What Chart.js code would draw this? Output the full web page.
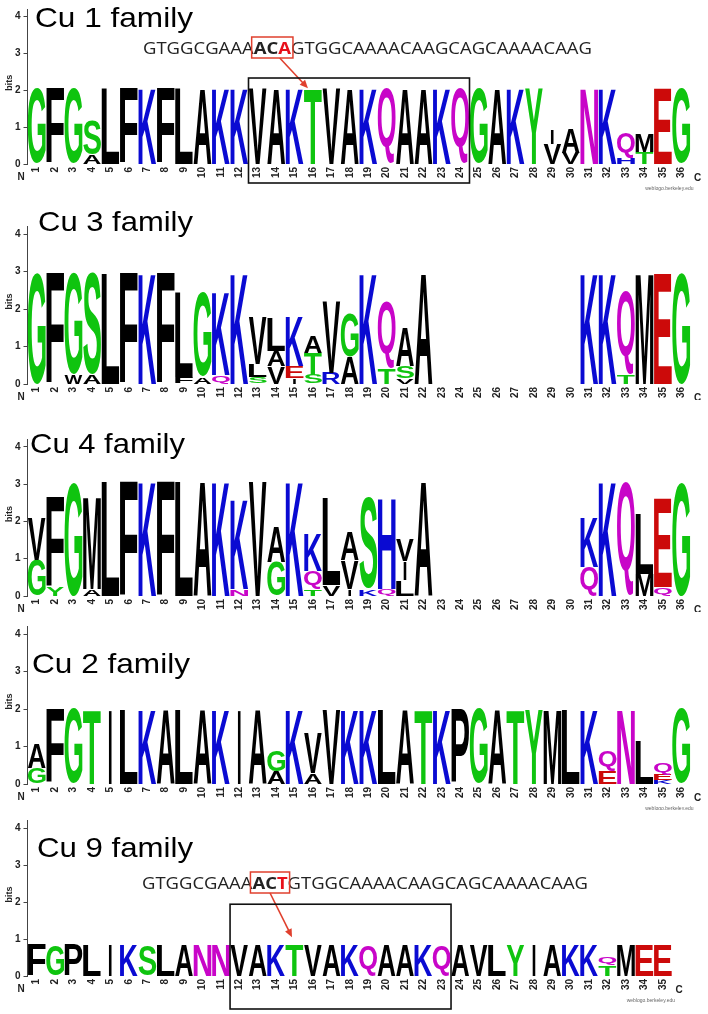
<!DOCTYPE html>
<html>
<head>
<meta charset="utf-8">
<script src="https://cdn.jsdelivr.net/npm/chart.js@4.4.0/dist/chart.umd.min.js"></script>
<style>
html, body { margin: 0; padding: 0; background: #fff; }
#page { position: relative; width: 708px; height: 1014px; overflow: hidden; }
#page canvas { position: absolute; left: 0; }
</style>
</head>
<body>
<div id="page">
  <canvas id="cu1" width="708" height="197" style="top:0px"></canvas>
  <canvas id="cu3" width="708" height="203" style="top:197px"></canvas>
  <canvas id="cu4" width="708" height="212" style="top:400px"></canvas>
  <canvas id="cu2" width="708" height="198" style="top:612px"></canvas>
  <canvas id="cu9" width="708" height="204" style="top:810px"></canvas>
</div>
<script>
// tick labels along the sequence
var positions36 = ['1','2','3','4','5','6','7','8','9','10','11','12','13','14','15','16','17','18',
                   '19','20','21','22','23','24','25','26','27','28','29','30','31','32','33','34','35','36'];
var positions35 = positions36.slice(0, 35);
var bitTicks = [0, 1, 2, 3, 4];

// residues stacked bottom -> top, with their heights in bits in the same order
var cu1Letters = ['G','F','G','AS','L','F','K','F','L','A','K','K','V','A','K','T','V','A',
                  'K','Q','A','A','K','Q','G','A','K','Y','VI','VA','N','K','HQ','TM','E','G'];
var cu1Bits = [[2.05],[2.05],[2.05],[0.27,0.92],[2.05],[2.05],[2.05],[2.05],[2.05],[2.05],[2.05],[2.05],
               [2.05],[2.05],[2.05],[2.05],[2.05],[2.05],[2.05],[2.05],[2.05],[2.05],[2.05],[2.05],
               [2.05],[2.05],[2.05],[2.05],[0.55,0.38],[0.31,0.65],[2.05],[2.05],[0.17,0.66],[0.32,0.5],[2.05],[2.05]];

var cu3Letters = ['G','F','WG','AS','L','F','K','F','FL','AG','QK','K','SLV','VAL','IEK','STA','RV','AG',
                  'K','TQ','VSA','A','','','','','','','','','K','K','TQ','M','E','G'];
var cu3Bits = [[2.95],[2.95],[0.25,2.7],[0.25,2.7],[2.95],[2.95],[2.95],[2.95],[0.2,2.25],[0.2,2.25],[0.25,2.2],[2.95],
               [0.18,0.35,1.25],[0.47,0.4,0.9],[0.16,0.31,1.3],[0.25,0.58,0.45],[0.3,1.92],[0.74,1.16],
               [2.95],[0.43,1.79],[0.16,0.31,1.03],[2.95],[],[],[],[],[],[],[],[],[2.95],[2.95],[0.25,2.23],[2.95],[2.95],[2.95]];

var cu4Letters = ['GV','YF','G','AM','L','F','K','F','L','A','K','NK','V','GA','K','TQK','VL','IVA',
                  'KS','QH','LIV','A','','','','','','','','','QK','K','Q','ML','QE','G'];
var cu4Bits = [[0.97,1.12],[0.25,2.42],[3.07],[0.2,2.47],[3.07],[3.07],[3.07],[3.07],[3.07],[3.07],[3.07],[0.2,2.42],
               [3.07],[0.92,0.94],[3.07],[0.18,0.5,1.02],[0.3,2.32],[0.2,0.76,0.76],
               [0.2,2.45],[0.2,2.45],[0.43,0.5,0.57],[3.07],[],[],[],[],[],[],[],[],[0.79,1.34],[3.07],[3.07],[0.6,1.62],[0.25,2.37],[3.07]];

var cu2Letters = ['GA','F','G','T','I','L','K','A','L','A','K','I','A','AG','K','AV','V','K',
                  'K','L','A','T','K','P','G','A','T','Y','M','L','K','EQ','N','L','KEQ','G'];
var cu2Bits = [[0.43,0.66],[2.0],[2.0],[2.0],[2.0],[2.0],[2.0],[2.0],[2.0],[2.0],[2.0],[2.0],
               [2.0],[0.35,0.57],[2.0],[0.3,1.06],[2.0],[2.0],[2.0],[2.0],[2.0],[2.0],[2.0],[2.0],
               [2.0],[2.0],[2.0],[2.0],[2.0],[2.0],[2.0],[0.36,0.51],[2.0],[1.18],[0.1,0.16,0.3],[2.0]];

var cu9Letters = ['F','G','P','L','I','K','S','L','A','N','N','V','A','K','T','V','A','K',
                  'Q','A','A','K','Q','A','V','L','Y','I','A','K','K','TQ','M','E','E'];
var cu9Bits = [[0.84],[0.84],[0.84],[0.84],[0.84],[0.84],[0.84],[0.84],[0.84],[0.84],[0.84],[0.84],
               [0.84],[0.84],[0.84],[0.84],[0.84],[0.84],[0.84],[0.84],[0.84],[0.84],[0.84],[0.84],
               [0.84],[0.84],[0.84],[0.84],[0.84],[0.84],[0.84],[0.3,0.22],[0.84],[0.84],[0.84]];

var cu1Dna = 'GTGGCGAAAACAGTGGCAAAACAAGCAGCAAAACAAG';
var cu9Dna = 'GTGGCGAAAACTGTGGCAAAACAAGCAGCAAAACAAG';

// residue colours (weblogo default scheme)
var green = '#0fc40f', purple = '#c805c8', blue = '#0a0ad2', red = '#cc0a0a';
var residueColours = { G: green, S: green, T: green, Y: green, C: green,
                       N: purple, Q: purple, K: blue, R: blue, H: blue, D: red, E: red };

function colourOf(ch) { return residueColours[ch] || '#000'; }

function logoDatasets(letters, bits) {
    var depth = Math.max.apply(null, bits.map(function (b) { return b.length; }));
    var sets = [];
    for (var k = 0; k < depth; k++) {
        sets.push({
            data: bits.map(function (b) { return b[k] === undefined ? null : b[k]; }),
            letters: letters.map(function (s) { return s.charAt(k); }),
            backgroundColor: 'rgba(0,0,0,0)',
            borderWidth: 0,
            stack: 'logo',
            barPercentage: 0.97,
            categoryPercentage: 1
        });
    }
    return sets;
}

var glyphFont = 'bold 100px "Liberation Sans", Arial, sans-serif';

// draws one residue stretched into its bar rectangle
function drawGlyph(ctx, ch, left, top, w, h, colour) {
    if (h < 0.5) return;
    ctx.save();
    ctx.font = glyphFont;
    ctx.textAlign = 'left';
    ctx.textBaseline = 'alphabetic';
    var m = ctx.measureText(ch);
    var gw = m.actualBoundingBoxLeft + m.actualBoundingBoxRight;
    var gh = m.actualBoundingBoxAscent + m.actualBoundingBoxDescent;
    var tw = ch === 'I' ? Math.max(2, w * 0.16) : w;
    ctx.translate(left + (w - tw) / 2, top);
    ctx.scale(tw / gw, h / gh);
    ctx.fillStyle = colour;
    ctx.fillText(ch, m.actualBoundingBoxLeft, m.actualBoundingBoxAscent);
    ctx.restore();
}

var letterPlugin = {
    id: 'letters',
    afterDatasetsDraw: function (chart) {
        var ctx = chart.ctx;
        chart.data.datasets.forEach(function (ds, di) {
            chart.getDatasetMeta(di).data.forEach(function (bar, i) {
                var ch = ds.letters[i];
                if (!ch || ds.data[i] == null) return;
                var p = bar.getProps(['x', 'y', 'base', 'width'], true);
                drawGlyph(ctx, ch, p.x - p.width / 2, p.y, p.width, p.base - p.y, colourOf(ch));
            });
        });
    }
};

function fitText(ctx, text, x, y, width, font) {
    ctx.save();
    ctx.font = font;
    var w = ctx.measureText(text).width;
    ctx.translate(x, y);
    ctx.scale(width / w, 1);
    ctx.fillText(text, 0, 0);
    ctx.restore();
}

function drawArrow(ctx, x1, y1, x2, y2, colour) {
    var a = Math.atan2(y2 - y1, x2 - x1), head = 9;
    ctx.save();
    ctx.strokeStyle = colour;
    ctx.fillStyle = colour;
    ctx.lineWidth = 1.6;
    ctx.beginPath();
    ctx.moveTo(x1, y1);
    ctx.lineTo(x2 - Math.cos(a) * head * 0.8, y2 - Math.sin(a) * head * 0.8);
    ctx.stroke();
    ctx.beginPath();
    ctx.moveTo(x2, y2);
    ctx.lineTo(x2 - head * Math.cos(a - 0.42), y2 - head * Math.sin(a - 0.42));
    ctx.lineTo(x2 - head * Math.cos(a + 0.42), y2 - head * Math.sin(a + 0.42));
    ctx.closePath();
    ctx.fill();
    ctx.restore();
}

var extrasPlugin = {
    id: 'extras',
    afterDraw: function (chart, args, opts) {
        var ctx = chart.ctx, area = chart.chartArea;
        var xs = chart.scales.x, ys = chart.scales.y;
        var step = xs.getPixelForValue(1) - xs.getPixelForValue(0);

        ctx.save();
        ctx.fillStyle = '#000';
        ctx.textBaseline = 'alphabetic';
        ctx.textAlign = 'left';
        fitText(ctx, opts.title.text, opts.title.x, opts.title.y, opts.title.width,
                '28px "Liberation Sans", Arial, sans-serif');

        // "bits", N, C and credit
        ctx.save();
        ctx.translate(10, ys.getPixelForValue(2.2));
        ctx.rotate(-Math.PI / 2);
        ctx.textAlign = 'center';
        ctx.textBaseline = 'middle';
        ctx.font = 'bold 9px "Liberation Sans", Arial, sans-serif';
        ctx.fillStyle = '#222';
        ctx.fillText('bits', 0, 0);
        ctx.restore();

        ctx.font = 'bold 10px "Liberation Sans", Arial, sans-serif';
        ctx.textAlign = 'center';
        ctx.textBaseline = 'middle';
        ctx.fillStyle = '#222';
        ctx.fillText('N', area.left - 6.5, area.bottom + 13.5);
        ctx.fillText('C', area.right + 7, area.bottom + 14.5);
        ctx.font = '5px "Liberation Sans", Arial, sans-serif';
        ctx.textAlign = 'right';
        ctx.fillStyle = '#666';
        ctx.fillText('weblogo.berkeley.edu', area.right + 3, area.bottom + 25);

        if (opts.dna) {
            var d = opts.dna, t = d.text;
            var normal = '16.5px "Open Sans", "Noto Sans", sans-serif';
            var bold = 'bold 16.5px "Open Sans", "Noto Sans", sans-serif';
            var parts = [
                { s: t.slice(0, d.codon), f: normal, c: '#222' },
                { s: t.slice(d.codon, d.codon + 2), f: bold, c: '#222' },
                { s: t.slice(d.codon + 2, d.codon + 3), f: bold, c: '#e8101a' },
                { s: t.slice(d.codon + 3), f: normal, c: '#222' }
            ];
            var total = 0;
            parts.forEach(function (p) { ctx.font = p.f; p.w = ctx.measureText(p.s).width; total += p.w; });
            var sx = d.width / total;
            var cx = d.x, codonLeft = 0, codonRight = 0;
            ctx.textAlign = 'left';
            ctx.textBaseline = 'alphabetic';
            parts.forEach(function (p, i) {
                if (i === 1) codonLeft = cx;
                ctx.save();
                ctx.font = p.f;
                ctx.fillStyle = p.c;
                ctx.translate(cx, d.y);
                ctx.scale(sx, 1);
                ctx.fillText(p.s, 0, 0);
                ctx.restore();
                cx += p.w * sx;
                if (i === 2) codonRight = cx;
            });
            var bl = codonLeft - 2, br = codonRight + 2, bt = d.y - 17, bb = d.y + 4;
            ctx.strokeStyle = '#e0402e';
            ctx.lineWidth = 1.5;
            ctx.strokeRect(bl, bt, br - bl, bb - bt);
            drawArrow(ctx, bl + (br - bl) * d.arrowFrom, bb,
                      xs.getPixelForValue(d.arrowTo[0]) + d.arrowTo[2], ys.getPixelForValue(d.arrowTo[1]),
                      '#e0402e');
        }

        if (opts.frame) {
            var f = opts.frame;
            var fl = xs.getPixelForValue(f.from) - step / 2;
            var fr = xs.getPixelForValue(f.to) + step / 2;
            var ft = ys.getPixelForValue(f.top);
            var fb = area.bottom + f.below;
            ctx.strokeStyle = '#111';
            ctx.lineWidth = 1.6;
            ctx.strokeRect(fl, ft, fr - fl, fb - ft);
        }
        ctx.restore();
    }
};

function makeLogo(id, labels, letters, bits, layout, extras) {
    return new Chart(document.getElementById(id).getContext('2d'), {
        type: 'bar',
        data: { labels: labels, datasets: logoDatasets(letters, bits) },
        plugins: [letterPlugin, extrasPlugin],
        options: {
            responsive: false,
            animation: false,
            devicePixelRatio: 1,
            layout: { padding: { left: 0, right: layout.right, top: layout.top, bottom: 0 } },
            plugins: { legend: { display: false }, tooltip: { enabled: false }, extras: extras },
            scales: {
                x: {
                    stacked: true,
                    grid: { display: false, drawTicks: false },
                    border: { display: false },
                    ticks: {
                        autoSkip: false, maxRotation: 90, minRotation: 90, padding: 3,
                        color: '#222', font: { family: '"Liberation Sans", Arial, sans-serif', size: 10, weight: 'bold' }
                    },
                    afterFit: function (scale) { scale.height = layout.xHeight; }
                },
                y: {
                    stacked: true,
                    min: 0,
                    max: 4.2,
                    grid: { drawOnChartArea: false, tickLength: 4, color: '#444' },
                    border: { display: true, color: '#444', width: 1 },
                    ticks: {
                        stepSize: 1, padding: 3, color: '#222',
                        font: { family: '"Liberation Sans", Arial, sans-serif', size: 10, weight: 'bold' }
                    },
                    afterBuildTicks: function (scale) {
                        scale.ticks = bitTicks.map(function (v) { return { value: v }; });
                    },
                    afterFit: function (scale) { scale.width = 27.5; }
                }
            }
        }
    });
}

makeLogo('cu1', positions36, cu1Letters, cu1Bits,
    { top: 7.5, right: 17.5, xHeight: 33 },
    { title: { text: 'Cu 1 family', x: 35, y: 27, width: 158 },
      dna: { text: cu1Dna, codon: 9, x: 143, y: 54, width: 449, arrowFrom: 0.68, arrowTo: [15, 2.05, -5] },
      frame: { from: 12, to: 23, top: 2.33, below: 19 } });

makeLogo('cu3', positions36, cu3Letters, cu3Bits,
    { top: 29.5, right: 17.5, xHeight: 16 },
    { title: { text: 'Cu 3 family', x: 38, y: 34, width: 155 } });

makeLogo('cu4', positions36, cu4Letters, cu4Bits,
    { top: 39.5, right: 17.5, xHeight: 16 },
    { title: { text: 'Cu 4 family', x: 30, y: 53, width: 155 } });

makeLogo('cu2', positions36, cu2Letters, cu2Bits,
    { top: 14.5, right: 17.5, xHeight: 26 },
    { title: { text: 'Cu 2 family', x: 32, y: 61, width: 158 } });

makeLogo('cu9', positions35, cu9Letters, cu9Bits,
    { top: 10.6, right: 36, xHeight: 38 },
    { title: { text: 'Cu 9 family', x: 37, y: 47, width: 156 },
      dna: { text: cu9Dna, codon: 9, x: 142, y: 79, width: 446, arrowFrom: 0.5, arrowTo: [14, 1.05, -2.5] },
      frame: { from: 11, to: 22, top: 1.94, below: 33 } });
</script>
</body>
</html>
